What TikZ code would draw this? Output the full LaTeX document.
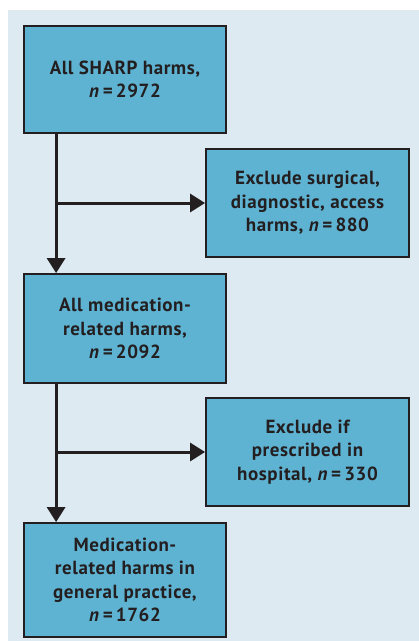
\documentclass[tikz,border=0pt]{standalone}
\usepackage{fontspec}
\setmainfont{PT Sans}[LetterSpace=3]
\usetikzlibrary{arrows.meta}
\definecolor{bg}{HTML}{DDEAF2}
\definecolor{boxfill}{HTML}{5FB3D2}
\definecolor{ink}{HTML}{231F20}
\tikzset{
  flowbox/.style={draw=ink, line width=1.8pt, fill=boxfill, text=ink,
    font=\fontsize{19}{23.5}\selectfont\bfseries, align=center,
    inner sep=0pt, minimum width=202pt},
  arr/.style={draw=ink, line width=3pt, -{Triangle[length=15pt,width=18pt]}}
}
\begin{document}
\begin{tikzpicture}[x=1pt,y=-1pt]
\useasboundingbox (0,0) rectangle (419,641);
\fill[bg] (8,10) rectangle (419,641);
\node[flowbox, minimum height=107pt] (b1) at (125,79.5) {All SHARP harms,\\\textit{n}\,=\,2972};
\node[flowbox, minimum width=203pt, minimum height=108pt] (b2) at (307.5,203) {Exclude surgical,\\diagnostic, access\\harms, \textit{n}\,=\,880};
\node[flowbox, minimum height=109pt] (b3) at (125,328.5) {All medication-\\related harms,\\\textit{n}\,=\,2092};
\node[flowbox, minimum width=203pt, minimum height=108pt] (b4) at (307.5,452) {Exclude if\\prescribed in\\hospital, \textit{n}\,=\,330};
\node[flowbox, minimum height=114pt] (b5) at (125,580) {Medication-\\related harms in\\general practice,\\\textit{n}\,=\,1762};
\coordinate (s1) at ([xshift=33pt]b1.south west);
\coordinate (s3) at ([xshift=33pt]b3.south west);
\draw[arr] (s1) -- (s1 |- b3.north);
\draw[arr] (s3) -- (s3 |- b5.north);
\draw[arr] (s1 |- b2.west) -- (b2.west);
\draw[arr] (s3 |- b4.west) -- (b4.west);
\end{tikzpicture}
\end{document}
